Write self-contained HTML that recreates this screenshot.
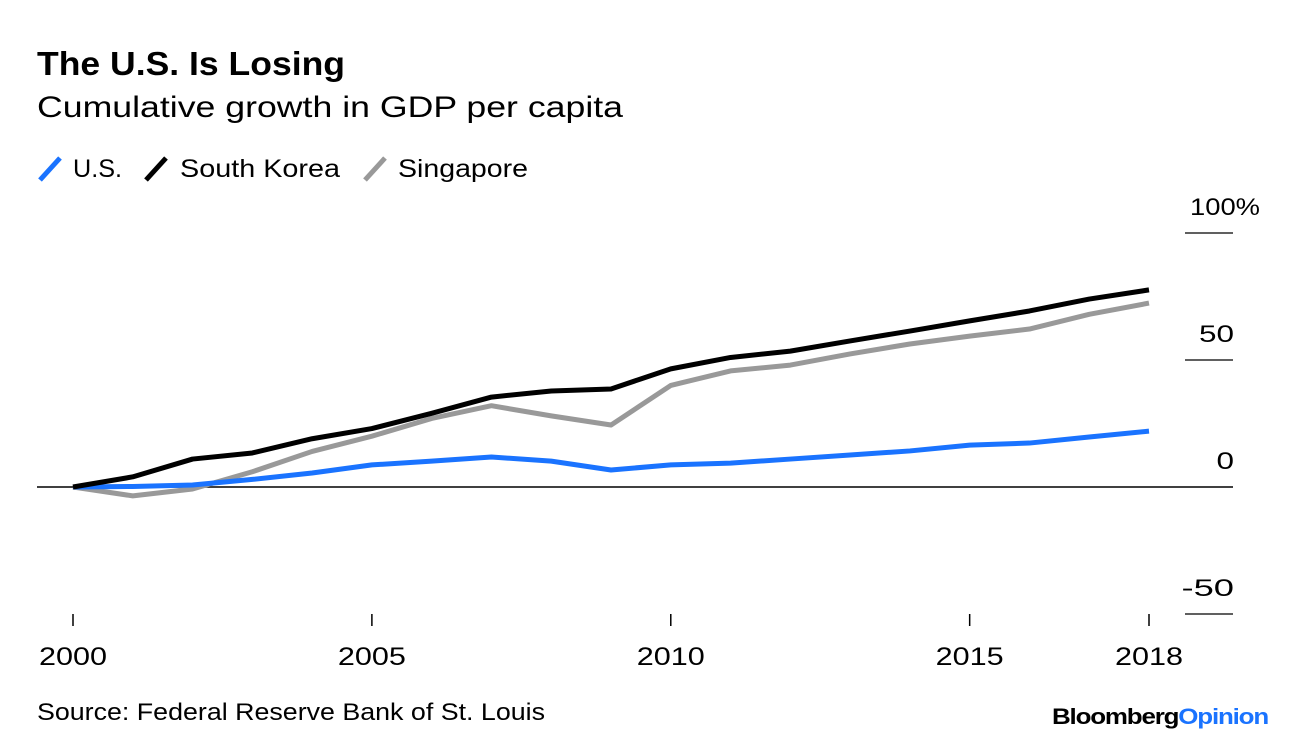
<!DOCTYPE html>
<html><head><meta charset="utf-8"><style>
body{margin:0;background:#fff;font-family:"Liberation Sans",sans-serif;}
svg text{font-family:"Liberation Sans",sans-serif;}
</style></head><body>
<svg width="1296" height="740" xmlns="http://www.w3.org/2000/svg">
<text x="37" y="75" font-size="33" font-weight="bold" fill="#000" textLength="308" lengthAdjust="spacingAndGlyphs">The U.S. Is Losing</text>
<text x="37" y="117" font-size="30" fill="#000" textLength="586" lengthAdjust="spacingAndGlyphs">Cumulative growth in GDP per capita</text>
<g>
<line x1="40" y1="180" x2="60" y2="158" stroke="#1a73ff" stroke-width="5"/>
<text x="73" y="177" font-size="25" textLength="49" lengthAdjust="spacingAndGlyphs">U.S.</text>
<line x1="146" y1="180" x2="166" y2="158" stroke="#000" stroke-width="5"/>
<text x="180" y="177" font-size="25" textLength="160" lengthAdjust="spacingAndGlyphs">South Korea</text>
<line x1="365" y1="180" x2="385" y2="158" stroke="#999" stroke-width="5"/>
<text x="398" y="177" font-size="25" textLength="130" lengthAdjust="spacingAndGlyphs">Singapore</text>
</g>
<g id="axes"></g>
<g id="series"></g>
<text x="37" y="720" font-size="24" textLength="508" lengthAdjust="spacingAndGlyphs">Source: Federal Reserve Bank of St. Louis</text>
<text x="1052" y="724" font-size="22" font-weight="bold" textLength="216" lengthAdjust="spacingAndGlyphs" letter-spacing="-1"><tspan fill="#000">Bloomberg</tspan><tspan fill="#1a73ff">Opinion</tspan></text>
</svg>
<script>
const years=[2000,2001,2002,2003,2004,2005,2006,2007,2008,2009,2010,2011,2012,2013,2014,2015,2016,2017,2018];
const usValues=[0,0.2,0.8,3,5.5,8.7,10.2,11.8,10.2,6.7,8.7,9.4,11,12.6,14.2,16.5,17.3,19.7,22];
const koreaValues=[0,4,11,13.4,19,23,29,35.4,37.8,38.6,46.5,51,53.5,57.5,61.4,65.4,69.3,74,77.6];
const singaporeValues=[0,-3.5,-0.8,6,14,20,27,32,28,24.4,40,45.7,48,52.4,56.3,59.4,62.2,68,72.4];
const yTicks=[100,50,0,-50];
const yTickLabels=["100%","50","0","-50"];
const xTicks=[2000,2005,2010,2015,2018];
const NS="http://www.w3.org/2000/svg";
const x=y=>73+(y-2000)*(1149-73)/18;
const yS=v=>487-v*(487-233)/100;
const axes=document.getElementById('axes'),series=document.getElementById('series');
function mk(tag,attrs,parent){const e=document.createElementNS(NS,tag);for(const k in attrs)e.setAttribute(k,attrs[k]);parent.appendChild(e);return e;}
yTicks.forEach((t,i)=>{
  const l=mk('line',{x1:t===0?37:1185,x2:1233,y1:yS(t),y2:yS(t),stroke:'#000','stroke-width':t===0?1.5:1.2},axes);
  
  
  const lab=yTickLabels[i];
  const tx=mk('text',{x:lab.length>3?1260:1234,y:yS(t)-18,'font-size':24,'text-anchor':'end',textLength:lab.length*17.5,lengthAdjust:'spacingAndGlyphs'},axes);
  tx.textContent=lab;
  
  
});
xTicks.forEach(t=>{
  const l=mk('line',{x1:x(t),x2:x(t),y1:614,y2:626,stroke:'#000','stroke-width':1.5},axes);
  
  
  const tx=mk('text',{x:x(t)-34,y:665,'font-size':25,textLength:68,lengthAdjust:'spacingAndGlyphs'},axes);
  tx.textContent=t;
  
  
});
function line(vals,color,name){
  const p=mk('polyline',{points:vals.map((v,i)=>x(years[i])+','+yS(v)).join(' '),fill:'none',stroke:color,'stroke-width':5,'stroke-linejoin':'round'},series);
  
  
}
line(singaporeValues,'#999','singapore-line');
line(usValues,'#1a73ff','us-line');
line(koreaValues,'#000','south-korea-line');
</script>
</body></html>
